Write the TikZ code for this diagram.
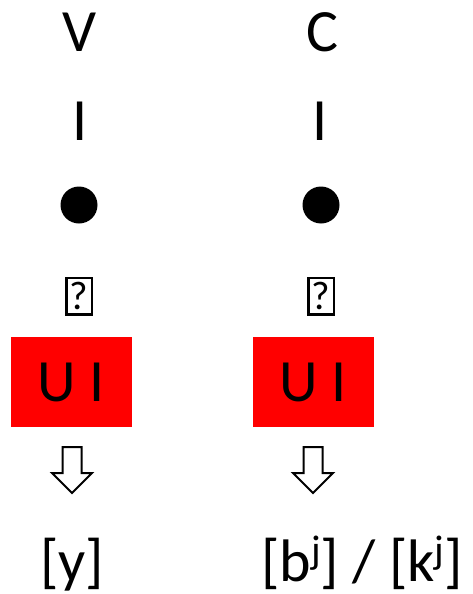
\documentclass[tikz,border=0pt]{standalone}
\usepackage{fontspec}
\setmainfont{Carlito}
\begin{document}
\begin{tikzpicture}[x=1pt,y=-1pt,
  lbl/.style={font=\fontsize{60}{60}\selectfont, inner sep=0pt, anchor=base},
  qbox/.style={draw, line width=2.5pt, minimum width=25.5pt, minimum height=36.5pt, inner sep=0pt, font=\fontsize{40}{40}\selectfont},
  redbox/.style={fill=red, minimum width=121pt, minimum height=90pt, inner sep=0pt, font=\fontsize{60}{60}\selectfont},
  dot/.style={circle, fill=black, minimum size=37pt, inner sep=0pt},
  hollow/.style={draw=black, fill=white, line width=2pt, line join=miter}
]
\useasboundingbox (0,0) rectangle (472,594);
% left column
\node[lbl] (v) at (80,52) {V};
\node[lbl] (bar1) at (80,140) {I};
\node[dot] (dot1) at (79,205) {};
\node[qbox] (q1) at (79,296) {?};
\node[redbox] (r1) at (71.5,382) {U I};
\coordinate (a1) at (72,447);
\draw[hollow] (a1) ++(-9.5,0) -- ++(0,26) -- ++(-10.5,0) -- ++(20,20) -- ++(20,-20) -- ++(-10.5,0) -- ++(0,-26) -- cycle;
\node[lbl] (o1) at (72,581) {[y]};
% right column
\node[lbl] (c) at (322,52) {C};
\node[lbl] (bar2) at (320,140) {I};
\node[dot] (dot2) at (321,205) {};
\node[qbox] (q2) at (321,296) {?};
\node[redbox] (r2) at (313.5,382) {U I};
\coordinate (a2) at (313,447);
\draw[hollow] (a2) ++(-9.5,0) -- ++(0,26) -- ++(-10.5,0) -- ++(20,20) -- ++(20,-20) -- ++(-10.5,0) -- ++(0,-26) -- cycle;
\node[lbl] (o2) at (362,581) {[b\raisebox{0.3em}{\fontsize{40}{40}\selectfont j}] / [k\raisebox{0.3em}{\fontsize{40}{40}\selectfont j}]};
\end{tikzpicture}
\end{document}
